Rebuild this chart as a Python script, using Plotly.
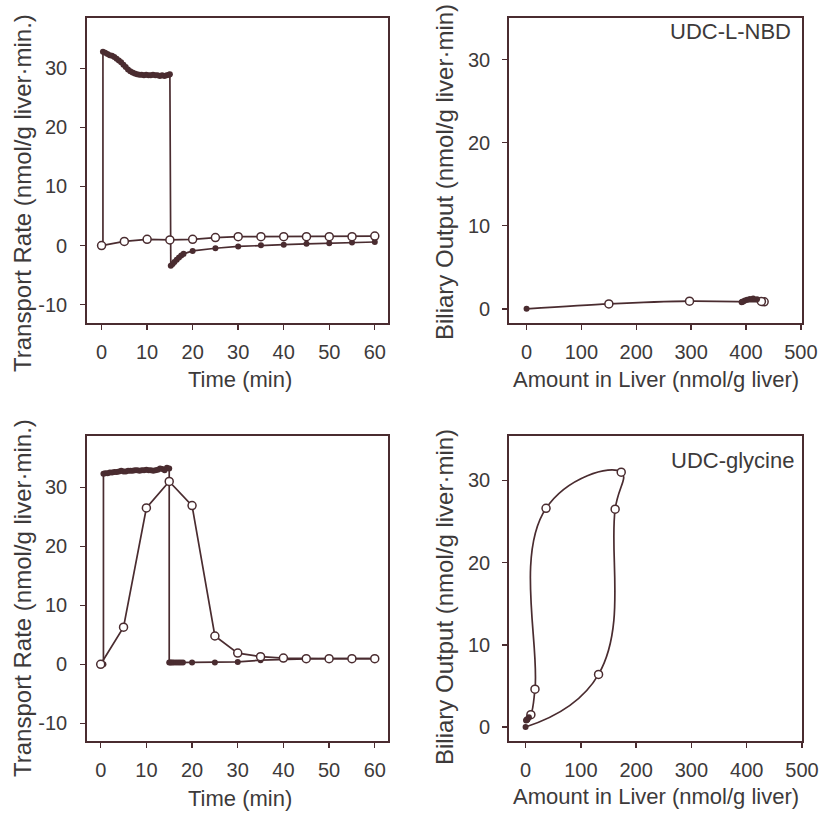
import plotly.graph_objects as go

# ---------------- data ----------------
# Top-left: UDC-L-NBD transport rates vs time
tl_fill_t = [0.3, 0.3, 0.8, 1.3, 1.8, 2.3, 2.8, 3.3, 3.8, 4.3, 4.8, 5.3, 5.8, 6.3, 6.8, 7.3,
             7.8, 8.3, 8.8, 9.3, 9.8, 10.3, 10.8, 11.3, 11.8, 12.3, 12.8, 13.3, 13.8, 14.3,
             14.8, 15.0, 15.2, 15.6, 16.0, 16.5, 17.0, 17.5, 18.0, 20, 25, 30, 35, 40, 45,
             50, 55, 60]
tl_fill_v = [0, 32.8, 32.6, 32.4, 32.2, 32.1, 31.9, 31.6, 31.3, 31.0, 30.6, 30.2, 29.8, 29.5,
             29.3, 29.1, 29.0, 28.9, 28.9, 28.8, 28.9, 28.8, 28.8, 28.9, 28.8, 28.8, 28.7,
             28.8, 28.7, 28.8, 28.9, 29.0, -3.4, -3.1, -2.8, -2.4, -2.0, -1.7, -1.4, -0.9,
             -0.45, -0.15, 0.05, 0.15, 0.3, 0.4, 0.5, 0.6]
tl_open_t = [0, 5, 10, 15, 20, 25, 30, 35, 40, 45, 50, 55, 60]
tl_open_v = [0, 0.7, 1.05, 0.95, 1.05, 1.35, 1.5, 1.5, 1.5, 1.5, 1.5, 1.5, 1.6]

# Top-right: UDC-L-NBD biliary output vs amount in liver
tr_liver = [0, 150, 297, 433, 428, 420, 413, 407, 402, 398, 395, 393, 392]
tr_output = [0, 0.6, 0.93, 0.85, 0.9, 1.15, 1.25, 1.2, 1.1, 1.0, 0.9, 0.85, 0.8]

# Bottom-left: UDC-glycine transport rates vs time
bl_fill_t = [0.6, 0.6, 1.0, 1.5, 2.0, 2.5, 3.0, 3.5, 4.0, 4.5, 5.0, 5.5, 6.0, 6.5, 7.0, 7.5,
             8.0, 8.5, 9.0, 9.5, 10.0, 10.5, 11.0, 11.5, 12.0, 12.5, 13.0, 13.5, 14.0, 14.5,
             15.0, 15.0, 15.3, 15.6, 16.0, 16.5, 17.0, 17.5, 18.0, 20, 25, 30, 35, 40, 45,
             50, 55, 60]
bl_fill_v = [0, 32.3, 32.4, 32.4, 32.5, 32.5, 32.6, 32.6, 32.7, 32.8, 32.7, 32.7, 32.8, 32.8,
             32.8, 32.9, 32.9, 32.8, 32.9, 32.9, 33.0, 32.9, 32.9, 32.8, 32.9, 33.0, 33.2,
             33.1, 32.9, 33.3, 33.2, 0.3, 0.3, 0.3, 0.3, 0.3, 0.3, 0.3, 0.3, 0.3, 0.3, 0.4,
             0.7, 0.85, 0.9, 0.95, 0.95, 0.95]
bl_open_t = [0, 5, 10, 15, 20, 25, 30, 35, 40, 45, 50, 55, 60]
bl_open_v = [0, 6.3, 26.5, 31.0, 26.9, 4.8, 1.9, 1.3, 1.05, 0.95, 0.95, 0.95, 0.95]

# Bottom-right: UDC-glycine biliary output vs amount in liver
br_liver = [0, 132, 162, 173, 37, 17, 9.6, 6, 4, 3, 2, 1.5, 1]
br_output = [0, 6.4, 26.5, 31.0, 26.6, 4.6, 1.5, 1.2, 1.0, 0.9, 0.9, 0.85, 0.8]

time_ticks = [0, 10, 20, 30, 40, 50, 60]
rate_ticks = [-10, 0, 10, 20, 30]
liver_ticks = [0, 100, 200, 300, 400, 500]
output_ticks = [0, 10, 20, 30]

panel_labels = ["UDC-L-NBD", "UDC-glycine"]
rate_title = "Transport Rate (nmol/g liver·min.)"
output_title = "Biliary Output (nmol/g liver·min)"
time_title = "Time (min)"
liver_title = "Amount in Liver (nmol/g liver)"

# ---------------- style ----------------
INK = "#4a2c30"
TXT = "#3d3a3a"
FONT = "Liberation Sans, Arial, sans-serif"
W, H = 824, 823

fig = go.Figure()


def filled_trace(x, y, xa, ya):
    return go.Scatter(x=x, y=y, mode="lines+markers", xaxis=xa, yaxis=ya,
                      line=dict(color=INK, width=1.7),
                      marker=dict(color=INK, size=6, symbol="circle"),
                      showlegend=False, hoverinfo="skip")


def open_trace(x, y, xa, ya, mode="lines+markers"):
    return go.Scatter(x=x, y=y, mode=mode, xaxis=xa, yaxis=ya,
                      line=dict(color=INK, width=1.7),
                      marker=dict(color="white", size=8, symbol="circle",
                                  line=dict(color=INK, width=1.5)),
                      showlegend=False, hoverinfo="skip")


# top-left
fig.add_trace(filled_trace(tl_fill_t, tl_fill_v, "x", "y"))
fig.add_trace(open_trace(tl_open_t, tl_open_v, "x", "y"))

# top-right
fig.add_trace(go.Scatter(x=tr_liver, y=tr_output, mode="lines", xaxis="x2", yaxis="y2",
                         line=dict(color=INK, width=1.7, shape="spline", smoothing=0.8),
                         showlegend=False, hoverinfo="skip"))
fig.add_trace(open_trace(tr_liver[1:5], tr_output[1:5], "x2", "y2", mode="markers"))
fig.add_trace(go.Scatter(x=[tr_liver[0]] + tr_liver[5:], y=[tr_output[0]] + tr_output[5:],
                         mode="markers", xaxis="x2", yaxis="y2",
                         marker=dict(color=INK, size=6),
                         showlegend=False, hoverinfo="skip"))

# bottom-left
fig.add_trace(filled_trace(bl_fill_t, bl_fill_v, "x3", "y3"))
fig.add_trace(open_trace(bl_open_t, bl_open_v, "x3", "y3"))

# bottom-right
fig.add_trace(go.Scatter(x=br_liver, y=br_output, mode="lines", xaxis="x4", yaxis="y4",
                         line=dict(color=INK, width=1.7, shape="spline", smoothing=1.3),
                         showlegend=False, hoverinfo="skip"))
fig.add_trace(open_trace(br_liver[1:7], br_output[1:7], "x4", "y4", mode="markers"))
fig.add_trace(go.Scatter(x=[br_liver[0]] + br_liver[7:], y=[br_output[0]] + br_output[7:],
                         mode="markers", xaxis="x4", yaxis="y4",
                         marker=dict(color=INK, size=6),
                         showlegend=False, hoverinfo="skip"))


def ax(domain, rng, ticks, anchor, standoff):
    return dict(domain=domain, range=rng, tickvals=ticks, ticktext=[str(t) for t in ticks],
                anchor=anchor, showgrid=False, zeroline=False, showline=True, mirror=True,
                linecolor=INK, linewidth=1.8, ticks="outside", ticklen=5, tickwidth=1.4,
                tickcolor=INK, tickfont=dict(family=FONT, size=20, color=TXT),
                ticklabelstandoff=standoff, fixedrange=True)


xl = [87 / W, 388 / W]
xr = [509 / W, 802 / W]
yt = [1 - 323 / H, 1 - 18 / H]
yb = [1 - 741 / H, 1 - 436 / H]

fig.update_layout(
    width=W, height=H,
    margin=dict(l=0, r=0, t=0, b=0, autoexpand=False),
    paper_bgcolor="white", plot_bgcolor="white",
    font=dict(family=FONT, color=TXT),
    xaxis=ax(xl, [-3.2, 62.9], time_ticks, "y", 5),
    yaxis=ax(yt, [-13.1, 38.5], rate_ticks, "x", 9),
    xaxis2=ax(xr, [-32, 502], liver_ticks, "y2", 5),
    yaxis2=ax(yt, [-1.7, 35.0], output_ticks, "x2", 8),
    xaxis3=ax(xl, [-3.0, 62.9], time_ticks, "y3", 5),
    yaxis3=ax(yb, [-13.0, 38.7], rate_ticks, "x3", 9),
    xaxis4=ax(xr, [-30, 500], liver_ticks, "y4", 5),
    yaxis4=ax(yb, [-1.7, 35.4], output_ticks, "x4", 8),
)

ann = []


def text(s, x, y, size=22, angle=0, xanchor="center", yanchor="middle"):
    ann.append(dict(text=s, x=x / W, y=1 - y / H, xref="paper", yref="paper",
                    showarrow=False, textangle=angle, xanchor=xanchor, yanchor=yanchor,
                    font=dict(family=FONT, size=size, color=TXT)))


text(rate_title, 22, 193, size=24, angle=-90)
text(rate_title, 22, 598, size=24, angle=-90)
text(output_title, 444, 172, size=24, angle=-90)
text(output_title, 444, 597, size=24, angle=-90)
text(time_title, 240, 379)
text(time_title, 240, 798)
text(liver_title, 656, 379)
text(liver_title, 656, 796)
text(panel_labels[0], 793, 32, xanchor="right")
text(panel_labels[1], 796, 460, xanchor="right")

fig.update_layout(annotations=ann)
fig.write_html("out.html",
               config={"displayModeBar": False, "staticPlot": True},
               post_script="document.body.style.margin='0';document.body.style.overflow='hidden';")
